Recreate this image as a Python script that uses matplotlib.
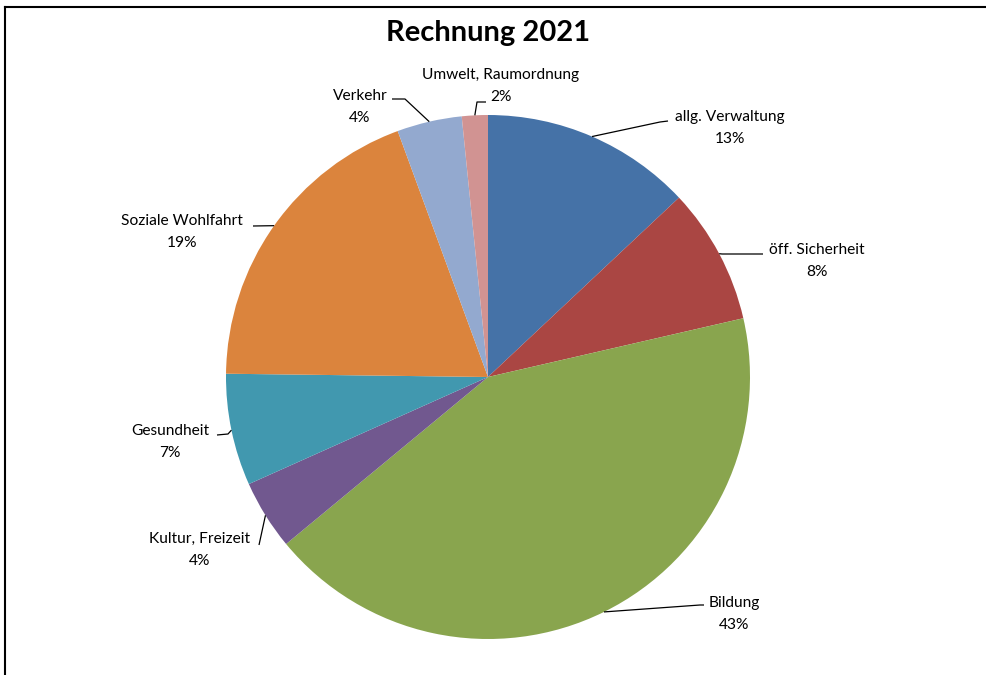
import matplotlib
matplotlib.use("Agg")
import matplotlib.pyplot as plt
import numpy as np

categories = ["allg. Verwaltung", "öff. Sicherheit", "Bildung", "Kultur, Freizeit",
              "Gesundheit", "Soziale Wohlfahrt", "Verkehr", "Umwelt, Raumordnung"]
values = [13.0, 8.4, 42.6, 4.3, 6.9, 19.2, 4.0, 1.6]
colors = ["#4572A7", "#AA4643", "#89A54E", "#71588F", "#4198AF", "#DB843D", "#93A9CF", "#D19392"]
title = "Rechnung 2021"

W, H = 987, 675
plt.rcParams['font.family'] = ['Lato', 'DejaVu Sans']
fig = plt.figure(figsize=(W / 100, H / 100), dpi=100)
ax = fig.add_axes([0, 0, 1, 1])

def Y(y):
    return H - y

cx, cy, R = 488, 377, 262
wedges, _ = ax.pie(values, colors=colors, startangle=90, counterclock=False,
                   center=(cx, Y(cy)), radius=R, frame=True,
                   wedgeprops=dict(linewidth=0))
ax.set_xlim(0, W)
ax.set_ylim(0, H)
ax.set_aspect('equal')
ax.axis('off')

# label layout (pixel coords): text block center, leader elbow, leader end
label_pos = [(730, 128), (817, 261), (734, 614), (200, 550),
             (170, 442), (182, 232), (360, 107), (501, 86)]
elbows = [(660, 122), (722, 254), (700, 605), (259, 545),
          (228, 434), (253, 226), (405, 99), (477, 102)]
ends = [(668, 121), (763, 254), (704, 605), (259, 545),
        (217, 435), (253, 226), (392, 99), (486, 102)]

total = sum(values)
cum = 0
for i, (cat, v) in enumerate(zip(categories, values)):
    mid = (cum + v / 2) / total * 360
    cum += v
    ang = np.deg2rad(90 - mid)
    ex, ey = cx + R * np.cos(ang), Y(cy) + R * np.sin(ang)
    xs = [ex, elbows[i][0], ends[i][0]]
    ys = [ey, Y(elbows[i][1]), Y(ends[i][1])]
    ax.plot(xs, ys, color='#000000', lw=0.9, solid_capstyle='butt')
    pct = round(v / total * 100)
    ax.text(label_pos[i][0], Y(label_pos[i][1]), f"{cat}\n{pct}%",
            ha='center', va='center', fontsize=11.2, linespacing=1.75, color='#000000')

ax.text(488, Y(33), title, ha='center', va='center', fontsize=21, fontweight='bold')

# frame border (top and left)
fig.add_artist(plt.Line2D([5 / W, 5 / W], [0, 1 - 7 / H], transform=fig.transFigure,
                          color='#000000', lw=1.5))
fig.add_artist(plt.Line2D([5 / W, 1], [1 - 7 / H, 1 - 7 / H], transform=fig.transFigure,
                          color='#000000', lw=1.5))

fig.savefig("out.png", dpi=100)
